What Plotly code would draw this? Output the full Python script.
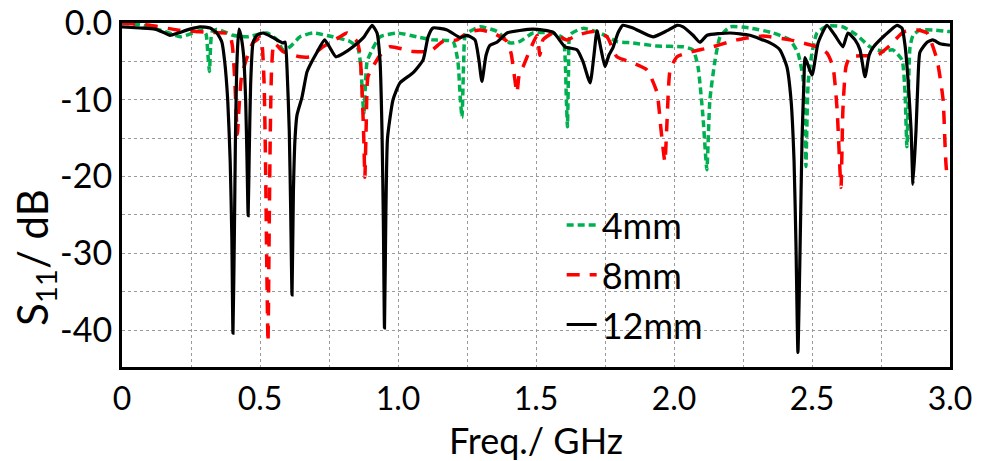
import plotly.graph_objects as go

# ---- data (frequency in GHz, S11 in dB) ----
f_4mm = [0.0, 0.076, 0.163, 0.21, 0.257, 0.293, 0.305, 0.311, 0.317, 0.321, 0.326, 0.344, 0.402, 0.453,
         0.525, 0.562, 0.583, 0.609, 0.645, 0.692, 0.764, 0.826, 0.855, 0.866, 0.872, 0.877, 0.882, 0.888,
         0.906, 0.935, 0.996, 1.069, 1.127, 1.199, 1.217, 1.226, 1.232, 1.238, 1.245, 1.297, 1.359, 1.406,
         1.442, 1.489, 1.562, 1.598, 1.606, 1.610, 1.614, 1.618, 1.624, 1.670, 1.732, 1.793, 1.851, 1.938,
         2.033, 2.069, 2.087, 2.105, 2.119, 2.13, 2.149, 2.167, 2.203, 2.275, 2.359, 2.420, 2.449, 2.467,
         2.475, 2.478, 2.486, 2.5, 2.518, 2.554, 2.612, 2.663, 2.710, 2.757, 2.793, 2.826, 2.837, 2.844,
         2.855, 2.866, 2.891, 2.938, 2.993, 3.0]
s_4mm = [0.0, -0.3, -1.2, -1.8, -1.3, -0.9, -1.5, -4.0, -6.3, -3.0, -1.2, -0.8, -1.6, -1.8,
         -1.3, -2.2, -3.5, -3.1, -1.8, -1.3, -1.8, -2.4, -3.3, -6.0, -10.0, -11.7, -8.0, -5.0,
         -3.5, -1.8, -1.3, -1.8, -2.2, -2.4, -5.0, -10.0, -12.3, -5.0, -1.5, -0.5, -1.1, -2.6,
         -2.4, -1.3, -1.3, -2.0, -5.0, -10.0, -13.5, -6.0, -1.5, -0.7, -1.3, -2.4, -2.6, -3.0,
         -3.1, -3.5, -5.7, -12.2, -19.1, -10.0, -4.8, -1.8, -0.5, -0.65, -1.3, -2.2, -3.9, -7.0,
         -12.6, -18.7, -7.8, -3.9, -1.3, -0.4, -0.5, -1.6, -3.1, -3.7, -3.5, -4.8, -9.1, -16.1,
         -3.2, -1.6, -0.9, -0.9, -1.1, -1.1]

f_8mm = [0.0, 0.101, 0.199, 0.308, 0.380, 0.39, 0.400, 0.408, 0.414, 0.418, 0.424, 0.433, 0.45, 0.474,
         0.489, 0.5, 0.508, 0.515, 0.52, 0.524, 0.529, 0.533, 0.537, 0.542, 0.551, 0.583, 0.645, 0.681,
         0.728, 0.79, 0.815, 0.851, 0.862, 0.870, 0.876, 0.880, 0.885, 0.891, 0.909, 0.935, 0.971, 1.054,
         1.116, 1.163, 1.214, 1.25, 1.297, 1.344, 1.395, 1.41, 1.422, 1.431, 1.44, 1.453, 1.478, 1.504,
         1.514, 1.525, 1.562, 1.612, 1.649, 1.707, 1.757, 1.793, 1.851, 1.902, 1.938, 1.953, 1.967, 1.975,
         1.986, 2.011, 2.058, 2.13, 2.228, 2.322, 2.42, 2.518, 2.554, 2.576, 2.591, 2.605, 2.612, 2.623,
         2.638, 2.736, 2.783, 2.83, 2.880, 2.917, 2.953, 2.975, 2.989, 3.0]
s_8mm = [0.0, -0.3, -0.9, -1.2, -1.3, -1.4, -3.0, -7.0, -12.0, -14.5, -11.0, -7.0, -4.8, -2.6,
         -2.2, -1.9, -3.0, -8.0, -18.0, -30.0, -41.6, -28.0, -15.0, -6.0, -2.6, -3.7, -4.4, -4.4,
         -3.1, -1.8, -1.3, -2.4, -4.0, -9.0, -15.0, -20.1, -13.0, -7.0, -5.7, -4.2, -3.1, -3.7,
         -3.7, -2.4, -2.2, -1.3, -0.9, -1.3, -2.4, -4.0, -7.0, -9.1, -6.5, -5.7, -3.5, -1.6,
         -4.2, -2.2, -1.3, -2.2, -1.6, -1.1, -1.8, -4.4, -5.2, -6.1, -9.0, -13.9, -18.1, -12.6,
         -6.1, -4.4, -3.8, -3.2, -2.2, -1.7, -2.2, -3.1, -3.9, -5.7, -11.3, -21.4, -11.3, -5.7,
         -4.4, -4.2, -2.9, -1.2, -0.9, -1.3, -4.8, -10.0, -19.5, -20.0]

f_12mm = [0.0, 0.065, 0.12, 0.149, 0.174, 0.203, 0.246, 0.283, 0.319, 0.344, 0.362, 0.372, 0.383, 0.392,
          0.398, 0.402, 0.407, 0.411, 0.415, 0.419, 0.424, 0.430, 0.440, 0.448, 0.453, 0.457, 0.461, 0.466,
          0.475, 0.489, 0.511, 0.547, 0.583, 0.591, 0.598, 0.606, 0.611, 0.616, 0.621, 0.627, 0.634, 0.652,
          0.670, 0.681, 0.705, 0.734, 0.750, 0.775, 0.805, 0.837, 0.877, 0.906, 0.924, 0.935, 0.942, 0.947,
          0.951, 0.956, 0.962, 0.982, 1.007, 1.054, 1.091, 1.109, 1.127, 1.178, 1.225, 1.25, 1.279, 1.293,
          1.304, 1.319, 1.333, 1.359, 1.395, 1.489, 1.562, 1.605, 1.649, 1.670, 1.696, 1.710, 1.721, 1.736,
          1.75, 1.764, 1.779, 1.797, 1.815, 1.851, 1.924, 1.975, 2.011, 2.033, 2.069, 2.094, 2.12, 2.203,
          2.275, 2.348, 2.384, 2.409, 2.424, 2.435, 2.442, 2.449, 2.457, 2.464, 2.471, 2.475, 2.5, 2.522,
          2.554, 2.583, 2.612, 2.630, 2.656, 2.674, 2.692, 2.707, 2.721, 2.764, 2.808, 2.826, 2.837, 2.848,
          2.859, 2.866, 2.877, 2.884, 2.891, 2.917, 2.938, 2.964, 3.0]
s_12mm = [-0.5, -0.65, -0.8, -1.2, -1.6, -1.3, -0.8, -0.5, -0.65, -1.3, -2.5, -5.0, -10.0, -18.0,
          -28.0, -40.4, -28.0, -15.0, -7.0, -3.0, -0.8, -1.5, -4.0, -10.0, -18.0, -25.1, -17.0, -8.0,
          -2.5, -1.6, -1.3, -1.9, -2.6, -2.5, -6.0, -14.0, -24.0, -35.4, -22.0, -15.0, -12.0, -9.7,
          -6.4, -5.5, -3.9, -2.2, -3.0, -4.4, -3.9, -3.1, -1.8, -0.3, -1.3, -5.0, -14.0, -26.0,
          -39.7, -25.0, -15.0, -10.0, -7.8, -6.5, -4.8, -1.8, -0.65, -0.9, -1.9, -1.6, -2.2, -4.8,
          -7.6, -4.2, -2.9, -2.5, -1.3, -0.8, -1.2, -3.1, -3.5, -5.0, -7.8, -4.2, -1.0, -3.5,
          -5.7, -4.2, -3.2, -1.3, -0.3, -0.65, -1.8, -1.0, -0.3, -0.5, -1.6, -2.5, -1.6, -1.3,
          -1.6, -2.6, -3.5, -5.7, -10.0, -18.0, -29.0, -42.9, -29.0, -15.0, -7.4, -4.5, -6.8, -2.6,
          -0.3, -1.6, -3.1, -1.3, -2.2, -3.5, -7.0, -4.2, -3.2, -1.6, -0.3, -0.65, -2.9, -7.4,
          -13.9, -21.0, -13.9, -7.4, -3.8, -2.5, -2.2, -2.7, -2.9]

series_names = ["4mm", "8mm", "12mm"]
x_tick_vals = [0, 0.5, 1.0, 1.5, 2.0, 2.5, 3.0]
x_tick_text = ["0", "0.5", "1.0", "1.5", "2.0", "2.5", "3.0"]
x_minor_vals = [0.25, 0.75, 1.25, 1.75, 2.25, 2.75]
y_tick_vals = [0, -10, -20, -30, -40]
y_tick_text = ["0.0", "-10", "-20", "-30", "-40"]
y_minor_vals = [-5, -15, -25, -35]

FONT = "Lato, 'Open Sans', sans-serif"

fig = go.Figure()
fig.add_trace(go.Scatter(x=f_4mm, y=s_4mm, mode="lines", name=series_names[0],
                         line=dict(color="#00B050", width=3.5, dash="7px,4px",
                                   shape="spline", smoothing=0.5)))
fig.add_trace(go.Scatter(x=f_8mm, y=s_8mm, mode="lines", name=series_names[1],
                         line=dict(color="#FF0000", width=3.5, dash="13px,10px",
                                   shape="spline", smoothing=0.5)))
fig.add_trace(go.Scatter(x=f_12mm, y=s_12mm, mode="lines", name=series_names[2],
                         line=dict(color="#000000", width=3.2,
                                   shape="spline", smoothing=0.5)))

grid_common = dict(showgrid=True, gridcolor="#9a9a9a", gridwidth=1, griddash="3px,3px")

fig.update_layout(
    width=985, height=461,
    margin=dict(l=122, r=35, t=23, b=94, autoexpand=False),
    plot_bgcolor="white", paper_bgcolor="white",
    font=dict(family=FONT, color="black"),
    showlegend=True,
    legend=dict(x=0.531, y=0.50, xanchor="left", yanchor="top",
                font=dict(size=36, family=FONT), bgcolor="rgba(0,0,0,0)",
                borderwidth=0, tracegroupgap=0),
    xaxis=dict(range=[0, 3.0], tickvals=x_tick_vals, ticktext=x_tick_text,
               tickfont=dict(size=32), ticks="", ticklabelstandoff=2,
               showline=True, linecolor="black", linewidth=3, mirror=True,
               zeroline=False, automargin=False,
               minor=dict(tickvals=x_minor_vals, ticks="", **grid_common),
               **grid_common),
    yaxis=dict(range=[-44.8, 0.0], tickvals=y_tick_vals, ticktext=y_tick_text,
               tickfont=dict(size=34), ticks="", ticklabelstandoff=0,
               showline=True, linecolor="black", linewidth=3, mirror=True,
               zeroline=False, automargin=False,
               minor=dict(tickvals=y_minor_vals, ticks="", **grid_common),
               **grid_common),
    annotations=[
        dict(text="S<sub>11</sub>/ dB", textangle=-90, xref="paper", yref="paper",
             x=-0.105, y=0.317, xanchor="center", yanchor="middle",
             showarrow=False, font=dict(size=42, family=FONT)),
        dict(text="Freq./ GHz", xref="paper", yref="paper",
             x=0.5, y=-0.212, xanchor="center", yanchor="middle",
             showarrow=False, font=dict(size=36, family=FONT)),
    ],
)

fig.write_html("out.html")
